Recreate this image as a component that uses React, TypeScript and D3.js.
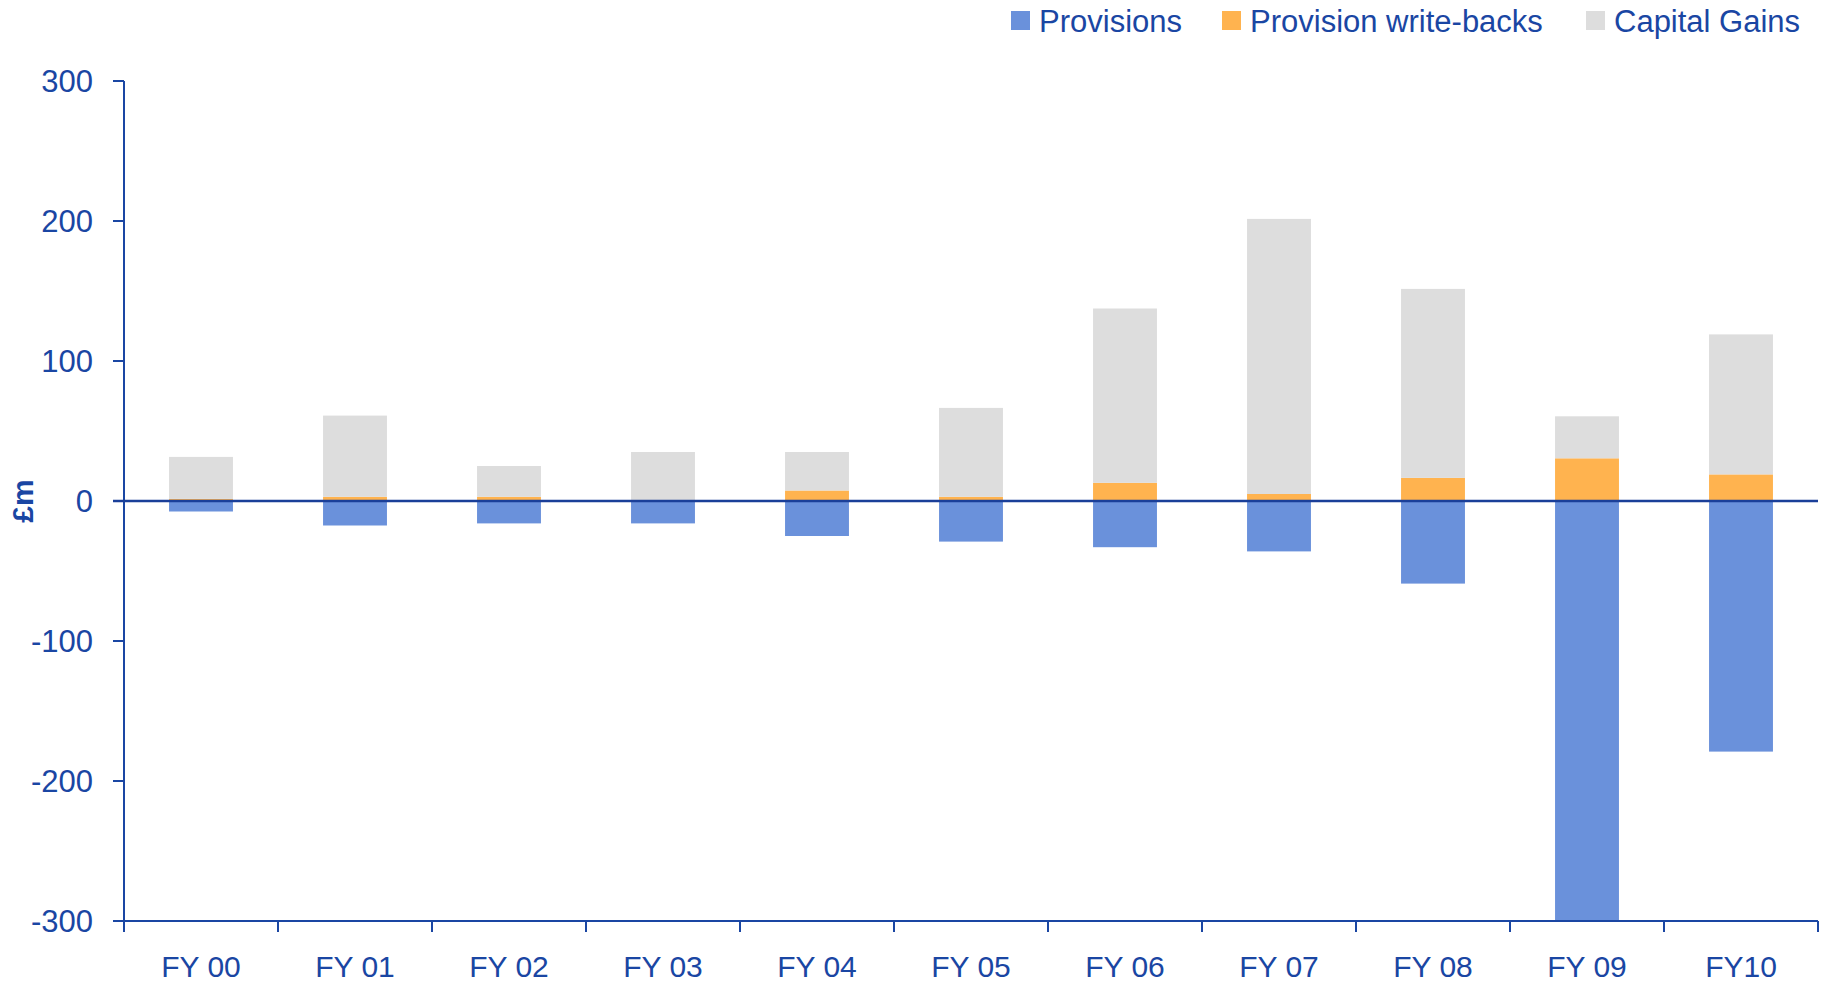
import { useEffect, useMemo } from "react";
import { scaleBand, scaleLinear, stack, stackOffsetDiverging } from "d3";

const categories = ["FY 00", "FY 01", "FY 02", "FY 03", "FY 04", "FY 05", "FY 06", "FY 07", "FY 08", "FY 09", "FY10"];
const provisions = [-7.5, -17.5, -16, -16, -25, -29, -33, -36, -59, -300, -179];
const writeBacks = [1.5, 3, 3, 0, 7.5, 3, 13, 5, 16.5, 30.5, 19];
const capitalGains = [30, 58, 22, 35, 27.5, 63.5, 124.5, 196.5, 135, 30, 100];
const yTicks = [-300, -200, -100, 0, 100, 200, 300];

const seriesKeys = ["provisions", "writeBacks", "capitalGains"] as const;
const seriesLabels = ["Provisions", "Provision write-backs", "Capital Gains"];
const seriesColors = ["#6A91DB", "#FFB34F", "#DDDDDD"];

const WIDTH = 1829;
const HEIGHT = 986;
const PLOT = { left: 124, right: 1818, top: 81, bottom: 921 };
const TEXT = "#1A46A3";
const FONT = "'Liberation Sans', Arial, sans-serif";

export default function App() {
  useEffect(() => {
    document.body.style.margin = "0";
  }, []);

  const rows = useMemo(
    () =>
      categories.map((c, i) => ({
        category: c,
        provisions: provisions[i],
        writeBacks: writeBacks[i],
        capitalGains: capitalGains[i],
      })),
    [],
  );

  const stacked = useMemo(
    () => stack<any>().keys(seriesKeys as unknown as string[]).offset(stackOffsetDiverging)(rows),
    [rows],
  );

  const x = scaleBand<string>()
    .domain(categories)
    .range([PLOT.left, PLOT.right])
    .paddingInner(0.585)
    .paddingOuter(0.2925);
  const y = scaleLinear().domain([-300, 300]).range([PLOT.bottom, PLOT.top]);
  const step = x.step();

  const legendX = [1011, 1222, 1586];

  return (
    <svg width={WIDTH} height={HEIGHT} style={{ display: "block" }} fontFamily={FONT}>
      <rect width={WIDTH} height={HEIGHT} fill="#fff" />

      {/* bars */}
      {stacked.map((layer, li) => (
        <g key={layer.key} fill={seriesColors[li]}>
          {layer.map((d, i) => {
            const top = y(Math.max(d[0], d[1]));
            const bottom = y(Math.min(d[0], d[1]));
            return (
              <rect
                key={categories[i]}
                x={x(categories[i])}
                y={top}
                width={x.bandwidth()}
                height={Math.max(0, bottom - top)}
              />
            );
          })}
        </g>
      ))}

      {/* y axis */}
      <line x1={PLOT.left} x2={PLOT.left} y1={PLOT.top} y2={PLOT.bottom} stroke={TEXT} strokeWidth={2} />
      {yTicks.map((t) => (
        <g key={t}>
          <line x1={PLOT.left - 11} x2={PLOT.left} y1={y(t)} y2={y(t)} stroke={TEXT} strokeWidth={2} />
          <text x={PLOT.left - 31} y={y(t)} dy="0.36em" textAnchor="end" fontSize={31} fill={TEXT}>
            {t}
          </text>
        </g>
      ))}

      {/* x axis */}
      <line x1={PLOT.left} x2={PLOT.right} y1={PLOT.bottom} y2={PLOT.bottom} stroke={TEXT} strokeWidth={2} />
      {categories.map((c) => (
        <line
          key={`tick-${c}`}
          x1={(x(c) ?? 0) + x.bandwidth() / 2 - step / 2}
          x2={(x(c) ?? 0) + x.bandwidth() / 2 - step / 2}
          y1={PLOT.bottom}
          y2={PLOT.bottom + 11}
          stroke={TEXT}
          strokeWidth={2}
        />
      ))}
      <line x1={PLOT.right} x2={PLOT.right} y1={PLOT.bottom} y2={PLOT.bottom + 11} stroke={TEXT} strokeWidth={2} />
      {categories.map((c) => (
        <text
          key={`lab-${c}`}
          x={(x(c) ?? 0) + x.bandwidth() / 2}
          y={977}
          textAnchor="middle"
          fontSize={30}
          fill={TEXT}
        >
          {c}
        </text>
      ))}

      {/* zero line */}
      <line x1={PLOT.left - 11} x2={PLOT.right} y1={y(0)} y2={y(0)} stroke="#1A3F99" strokeWidth={2.5} />

      {/* y title */}
      <text
        transform={`translate(33, ${y(0)}) rotate(-90)`}
        textAnchor="middle"
        fontSize={30}
        fontWeight="bold"
        fill={TEXT}
      >
        £m
      </text>

      {/* legend */}
      {seriesLabels.map((label, i) => (
        <g key={label} transform={`translate(${legendX[i]}, 11)`}>
          <rect width={19} height={19} fill={seriesColors[i]} />
          <text x={28} y={21} fontSize={31} fill={TEXT}>
            {label}
          </text>
        </g>
      ))}
    </svg>
  );
}
